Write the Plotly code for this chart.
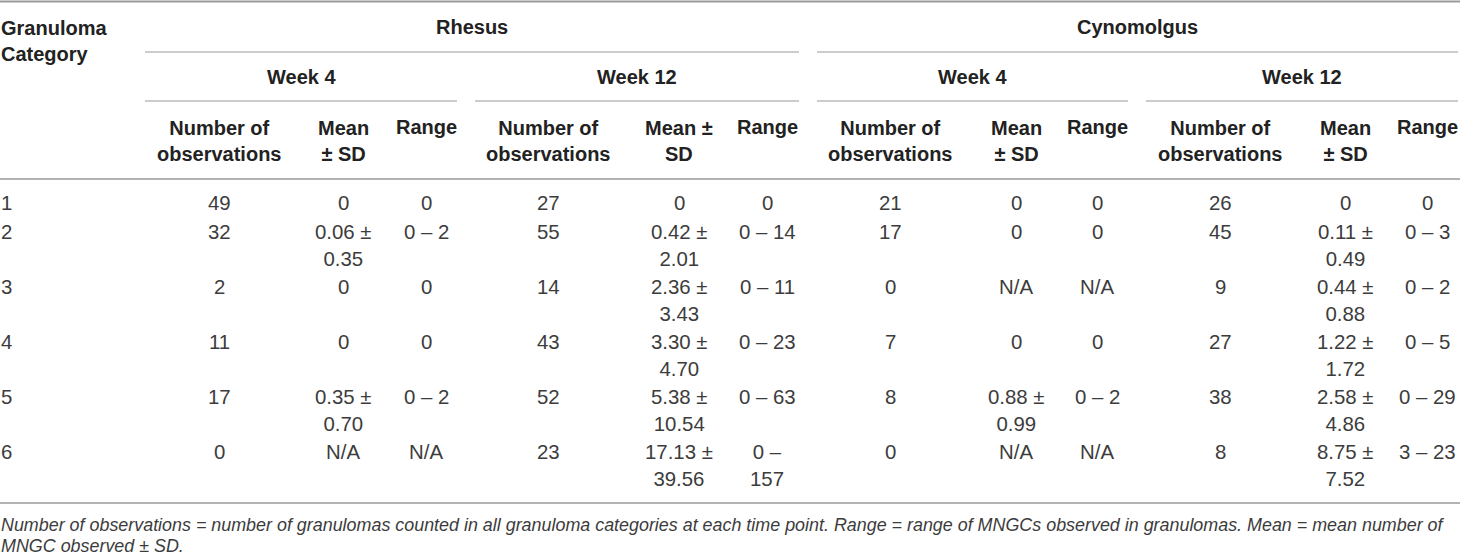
"""
Tabella MNGC per categoria di granuloma — Rhesus vs Cynomolgus
Output: out.html
"""

import plotly.graph_objects as go

# ── Dati ───────────────────────────────────────────────────────────────────────
categories = [1, 2, 3, 4, 5, 6]

rh_w4_n     = [49, 32, 2, 11, 17, 0]
rh_w4_mean  = ["0", "0.06 ± 0.35", "0", "0", "0.35 ± 0.70", "N/A"]
rh_w4_range = ["0", "0 – 2", "0", "0", "0 – 2", "N/A"]

rh_w12_n     = [27, 55, 14, 43, 52, 23]
rh_w12_mean  = ["0", "0.42 ± 2.01", "2.36 ± 3.43", "3.30 ± 4.70", "5.38 ± 10.54", "17.13 ± 39.56"]
rh_w12_range = ["0", "0 – 14", "0 – 11", "0 – 23", "0 – 63", "0 – 157"]

cy_w4_n     = [21, 17, 0, 7, 8, 0]
cy_w4_mean  = ["0", "0", "N/A", "0", "0.88 ± 0.99", "N/A"]
cy_w4_range = ["0", "0", "N/A", "0", "0 – 2", "N/A"]

cy_w12_n     = [26, 45, 9, 27, 38, 8]
cy_w12_mean  = ["0", "0.11 ± 0.49", "0.44 ± 0.88", "1.22 ± 1.72", "2.58 ± 4.86", "8.75 ± 7.52"]
cy_w12_range = ["0", "0 – 3", "0 – 2", "0 – 5", "0 – 29", "3 – 23"]

species   = ["Rhesus", "Cynomolgus"]
weeks     = ["Week 4", "Week 12"]
col_heads = ["Number of<br>observations", "Mean<br>± SD", "Range"]
col_heads_rh12 = ["Number of<br>observations", "Mean ±<br>SD", "Range"]

footnote = ["Number of observations = number of granulomas counted in all granuloma categories "
            "at each time point. Range = range of MNGCs observed in granulomas. Mean = mean number of",
            "MNGC observed ± SD."]

# ── Layout (pixel) ─────────────────────────────────────────────────────────────
W, H = 1460, 556
COL_X = [219, 343, 426, 548, 679, 767, 890, 1016, 1097, 1220, 1345, 1427]
GROUP_SPAN = [(145, 799), (817, 1458)]
WEEK_SPAN  = [(145, 457), (475, 799), (817, 1128), (1146, 1458)]
LINE_COLOR = "#9a9a9a"

HEAD_FONT = dict(family="Liberation Sans, Arial, sans-serif", size=20, color="#222222", weight="bold")
BODY_FONT = dict(family="Liberation Sans, Arial, sans-serif", size=20.4, color="#3c3c3c")
NOTE_FONT = dict(family="Liberation Sans, Arial, sans-serif", size=17.9, color="#3c3c3c", style="italic")
LINE_H = 27


def wrap(s):
    s = str(s).replace(" ± ", " ±<br>")
    if len(s) > 6 and " – " in s:
        s = s.replace(" – ", " –<br>")
    return s


columns = [rh_w4_n, rh_w4_mean, rh_w4_range,
           rh_w12_n, rh_w12_mean, rh_w12_range,
           cy_w4_n, cy_w4_mean, cy_w4_range,
           cy_w12_n, cy_w12_mean, cy_w12_range]

cells = [[wrap(col[r]) for col in columns] for r in range(len(categories))]
n_lines = [max(c.count("<br>") + 1 for c in row) for row in cells]

# posizione della prima riga di testo per ogni riga della tabella
row_y = []
y = 203
for n in n_lines:
    row_y.append(y)
    y += 26.5 * n + 2

fig = go.Figure()
fig.add_trace(go.Scatter(x=[0, W], y=[0, H], mode="markers",
                         marker=dict(opacity=0), showlegend=False, hoverinfo="skip"))

ann = []


def add_text(x, y0, text, font, anchor="center", lines=1):
    ann.append(dict(x=x, y=y0 + (lines - 1) * LINE_H / 2, text=text, xref="x", yref="y",
                    showarrow=False, xanchor=anchor, yanchor="middle",
                    align=anchor if anchor != "center" else "center",
                    font=font, borderpad=0))


# ── Intestazione ──────────────────────────────────────────────────────────────
add_text(0, 27, "Granuloma<br>Category", HEAD_FONT, anchor="left", lines=2)
for (x0, x1), sp in zip(GROUP_SPAN, species):
    add_text((x0 + x1) / 2, 27, sp, HEAD_FONT)
for i, (x0, x1) in enumerate(WEEK_SPAN):
    add_text((x0 + x1) / 2, 77, weeks[i % 2], HEAD_FONT)
for i, x in enumerate(COL_X):
    heads = col_heads_rh12 if i // 3 == 1 else col_heads
    h = heads[i % 3]
    add_text(x, 127, h, HEAD_FONT, lines=h.count("<br>") + 1)

# ── Corpo ─────────────────────────────────────────────────────────────────────
for r, cat in enumerate(categories):
    add_text(0, row_y[r], str(cat), BODY_FONT, anchor="left")
    for c, x in enumerate(COL_X):
        t = cells[r][c]
        add_text(x, row_y[r], t, BODY_FONT, lines=t.count("<br>") + 1)

# ── Nota ──────────────────────────────────────────────────────────────────────
for k, line in enumerate(footnote):
    add_text(0, 525 + 21 * k, line, NOTE_FONT, anchor="left")

# ── Linee ─────────────────────────────────────────────────────────────────────
shapes = [dict(type="line", x0=0, x1=W, y0=1.5, y1=1.5, line=dict(color=LINE_COLOR, width=2)),
          dict(type="line", x0=0, x1=W, y0=179, y1=179, line=dict(color=LINE_COLOR, width=1.5)),
          dict(type="line", x0=0, x1=W, y0=503, y1=503, line=dict(color=LINE_COLOR, width=1.5))]
for x0, x1 in GROUP_SPAN:
    shapes.append(dict(type="line", x0=x0, x1=x1, y0=52, y1=52, line=dict(color=LINE_COLOR, width=1.2)))
for x0, x1 in WEEK_SPAN:
    shapes.append(dict(type="line", x0=x0, x1=x1, y0=101, y1=101, line=dict(color=LINE_COLOR, width=1.2)))
for s in shapes:
    s.update(xref="x", yref="y")

fig.update_layout(
    width=W, height=H,
    margin=dict(l=0, r=0, t=0, b=0),
    paper_bgcolor="white", plot_bgcolor="white",
    xaxis=dict(range=[0, W], visible=False, fixedrange=True),
    yaxis=dict(range=[H, 0], visible=False, fixedrange=True),
    annotations=ann, shapes=shapes,
    showlegend=False,
)

# niente margine del body: la tabella parte dall'angolo in alto a sinistra
fig.write_html("out.html",
               config={"displayModeBar": False},
               post_script="document.body.style.margin='0px';document.body.style.overflow='hidden';")
